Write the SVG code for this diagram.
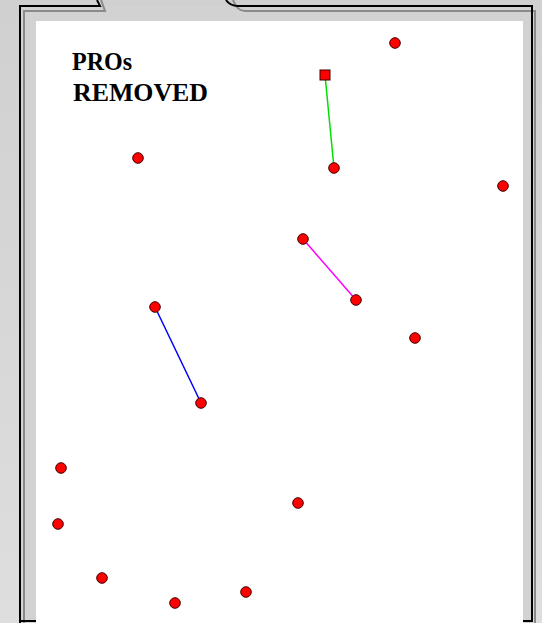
<svg xmlns="http://www.w3.org/2000/svg" width="542" height="623" viewBox="0 0 542 623">
<style>
.dot{fill:#ff0000;stroke:#400000;stroke-width:1}
.lbl{font-family:"Liberation Serif","Times New Roman",serif;font-weight:bold;font-size:25px;fill:#000}
.blk{fill:none;stroke:#000;stroke-width:2}
.gry{fill:none;stroke:#8a8a8a;stroke-width:2}
</style>
<defs>
<linearGradient id="bg" x1="0" y1="0" x2="0" y2="1">
<stop offset="0" stop-color="#d0d0d0"/>
<stop offset="1" stop-color="#dedede"/>
</linearGradient>
</defs>
<g id="frame">
<rect x="0" y="0" width="542" height="623" fill="url(#bg)"/>
<rect x="20" y="6" width="512" height="617" fill="#d2d2d2"/>
<path class="gry" d="M24,623 V11 H105 L101,0 M233,0 Q237,11 245,11 H535 V623"/>
<path class="blk" d="M20,623 V6 H100 L97,0 M226,0 Q230,6 238,6 H532 V621 H20"/>
<rect x="36" y="21" width="487" height="602" fill="#ffffff"/>
</g>
<g id="label">
<text class="lbl" x="72" y="70" textLength="60" lengthAdjust="spacingAndGlyphs">PROs</text>
<text class="lbl" x="73" y="101" textLength="135" lengthAdjust="spacingAndGlyphs">REMOVED</text>
</g>
<g id="connectors">
<line x1="325" y1="75" x2="334" y2="168" stroke="#00e000" stroke-width="1.5"/>
<line x1="303" y1="239" x2="356" y2="300" stroke="#ff00ff" stroke-width="1.5"/>
<line x1="155" y1="307" x2="201" y2="403" stroke="#0000ff" stroke-width="1.5"/>
</g>
<g id="nodes">
<rect id="n0" class="dot" x="320" y="70" width="10" height="10"/>
<circle id="n1" class="dot" cx="395" cy="43" r="5.3"/>
<circle id="n2" class="dot" cx="138" cy="158" r="5.3"/>
<circle id="n3" class="dot" cx="334" cy="168" r="5.3"/>
<circle id="n4" class="dot" cx="503" cy="186" r="5.3"/>
<circle id="n5" class="dot" cx="303" cy="239" r="5.3"/>
<circle id="n6" class="dot" cx="356" cy="300" r="5.3"/>
<circle id="n7" class="dot" cx="155" cy="307" r="5.3"/>
<circle id="n8" class="dot" cx="415" cy="338" r="5.3"/>
<circle id="n9" class="dot" cx="201" cy="403" r="5.3"/>
<circle id="n10" class="dot" cx="61" cy="468" r="5.3"/>
<circle id="n11" class="dot" cx="298" cy="503" r="5.3"/>
<circle id="n12" class="dot" cx="58" cy="524" r="5.3"/>
<circle id="n13" class="dot" cx="102" cy="578" r="5.3"/>
<circle id="n14" class="dot" cx="246" cy="592" r="5.3"/>
<circle id="n15" class="dot" cx="175" cy="603" r="5.3"/>
</g>
</svg>
